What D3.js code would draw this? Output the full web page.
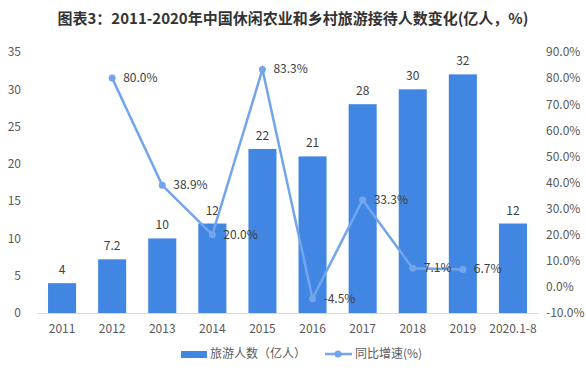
<!DOCTYPE html>
<html>
<head>
<meta charset="utf-8">
<script src="https://d3js.org/d3.v7.min.js"></script>
<style>
  body { margin: 0; background: #fff; }
  text { font-family: "Microsoft YaHei", "Noto Sans CJK SC", sans-serif; fill: #595959; }
  .title { font-size: 15px; font-weight: bold; fill: #333; }
  .tick text { font-size: 12px; }
  .lbl { font-size: 12px; fill: #404040; }
</style>
</head>
<body>
<svg id="chart" width="586" height="371"></svg>
<script>
var years = ["2011", "2012", "2013", "2014", "2015", "2016", "2017", "2018", "2019", "2020.1-8"];
var visitors = [4, 7.2, 10, 12, 22, 21, 28, 30, 32, 12];
var growth = [null, 80.0, 38.9, 20.0, 83.3, -4.5, 33.3, 7.1, 6.7, null];
var leftTicks = [0, 5, 10, 15, 20, 25, 30, 35];
var rightTicks = [-10, 0, 10, 20, 30, 40, 50, 60, 70, 80, 90];

var svg = d3.select("#chart");
var plotLeft = 37, plotRight = 538, plotTop = 52, plotBottom = 313;

svg.append("text").attr("class", "title")
  .attr("x", 293).attr("y", 24).attr("text-anchor", "middle")
  .text("图表3：2011-2020年中国休闲农业和乡村旅游接待人数变化(亿人，%)");

var x = d3.scaleBand().domain(years).range([plotLeft, plotRight]).paddingInner(0.44).paddingOuter(0.22);
var y = d3.scaleLinear().domain([0, 35]).range([plotBottom, plotTop]);
var y2 = d3.scaleLinear().domain([-10, 90]).range([plotBottom, plotTop]);

// left axis
var gl = svg.append("g").attr("transform", "translate(" + plotLeft + ",0)")
  .call(d3.axisLeft(y).tickValues(leftTicks).tickSize(0).tickPadding(16));
gl.select(".domain").remove();

// right axis
var gr = svg.append("g").attr("transform", "translate(" + plotRight + ",0)")
  .call(d3.axisRight(y2).tickValues(rightTicks).tickSize(0).tickPadding(8)
    .tickFormat(function(d) { return d.toFixed(1) + "%"; }));
gr.select(".domain").remove();

// x axis
var gx = svg.append("g").attr("transform", "translate(0," + plotBottom + ")")
  .call(d3.axisBottom(x).tickSize(0).tickPadding(11));
gx.select(".domain").attr("stroke", "#d9d9d9");

// bars
svg.append("g").selectAll("rect").data(visitors).enter().append("rect")
  .attr("x", function(d, i) { return x(years[i]); })
  .attr("y", function(d) { return y(d); })
  .attr("width", x.bandwidth())
  .attr("height", function(d) { return plotBottom - y(d); })
  .attr("fill", "#4086e2");

svg.append("g").selectAll("text").data(visitors).enter().append("text")
  .attr("class", "lbl").attr("text-anchor", "middle")
  .attr("x", function(d, i) { return x(years[i]) + x.bandwidth() / 2; })
  .attr("y", function(d) { return y(d) - 9; })
  .text(function(d) { return d; });

// growth line
var pts = [];
growth.forEach(function(d, i) { if (d !== null) pts.push({ x: x(years[i]) + x.bandwidth() / 2, v: d }); });

var line = d3.line().x(function(d) { return d.x; }).y(function(d) { return y2(d.v); });
svg.append("path").datum(pts).attr("d", line)
  .attr("fill", "none").attr("stroke", "#72a5ec").attr("stroke-width", 2.5);

svg.append("g").selectAll("circle").data(pts).enter().append("circle")
  .attr("cx", function(d) { return d.x; }).attr("cy", function(d) { return y2(d.v); })
  .attr("r", 3.5).attr("fill", "#72a5ec");

svg.append("g").selectAll("text").data(pts).enter().append("text")
  .attr("class", "lbl")
  .attr("x", function(d) { return d.x + 11; })
  .attr("y", function(d) { return y2(d.v) + 4; })
  .text(function(d) { return d.v.toFixed(1) + "%"; });

// legend
var lg = svg.append("g").attr("transform", "translate(0,354)");
lg.append("rect").attr("x", 181).attr("y", -3).attr("width", 26).attr("height", 7).attr("fill", "#4086e2");
lg.append("text").attr("x", 210).attr("y", 4).style("font-size", "12px").text("旅游人数（亿人）");
lg.append("line").attr("x1", 325).attr("x2", 352).attr("y1", 0).attr("y2", 0)
  .attr("stroke", "#72a5ec").attr("stroke-width", 2.5);
lg.append("circle").attr("cx", 338).attr("cy", 0).attr("r", 3.5).attr("fill", "#72a5ec");
lg.append("text").attr("x", 355).attr("y", 4).style("font-size", "12px").text("同比增速(%)");
</script>
</body>
</html>
